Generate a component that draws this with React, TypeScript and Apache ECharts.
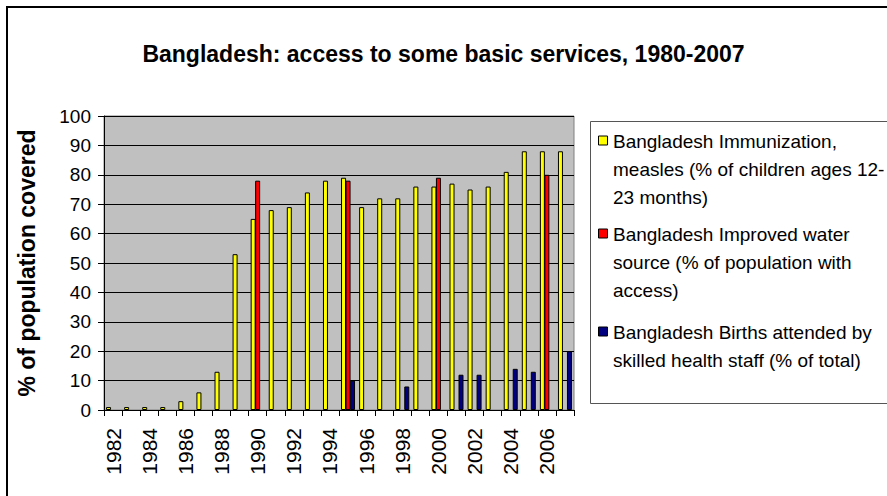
import React, { useEffect, useRef } from "react";
import * as echarts from "echarts";

const years: string[] = [
  "1982", "1983", "1984", "1985", "1986", "1987", "1988", "1989", "1990",
  "1991", "1992", "1993", "1994", "1995", "1996", "1997", "1998", "1999",
  "2000", "2001", "2002", "2003", "2004", "2005", "2006", "2007",
];

const immunization: (number | null)[] = [
  1, 1, 1, 1, 3, 6, 13, 53, 65, 68, 69, 74, 78, 79, 69, 72, 72, 76, 76, 77, 75, 76, 81, 88, 88, 88,
];

const water: (number | null)[] = [
  null, null, null, null, null, null, null, null, 78, null, null, null, null, 78, null, null, null,
  null, 79, null, null, null, null, null, 80, null,
];

const births: (number | null)[] = [
  null, null, null, null, null, null, null, null, null, null, null, null, null, 10, null, null, 8,
  null, null, 12, 12, null, 14, 13, null, 20,
];

const seriesNames: string[] = [
  "Bangladesh Immunization, measles (% of children ages 12-23 months)",
  "Bangladesh Improved water source (% of population with access)",
  "Bangladesh Births attended by skilled health staff (% of total)",
];

const legendLines: string[][] = [
  ["Bangladesh Immunization,", "measles (% of children ages 12-", "23 months)"],
  ["Bangladesh Improved water", "source (% of population with", "access)"],
  ["Bangladesh Births attended by", "skilled health staff (% of total)"],
];

const colors: string[] = ["#FFFF00", "#FF0000", "#000080"];

const FONT = "'Liberation Sans', Arial, Helvetica, sans-serif";

export default function App() {
  const ref = useRef<HTMLDivElement>(null);

  useEffect(() => {
    if (!ref.current) return;
    const chart = echarts.init(ref.current, undefined, { renderer: "svg" });

    const legendCenters = [141, 234, 332];
    const lineH = 28;
    const legendGraphics: any[] = [
      {
        type: "rect",
        shape: { x: 590.5, y: 121.5, width: 400, height: 282 },
        style: { fill: "#FFFFFF", stroke: "#555555", lineWidth: 1 },
        z: 10,
      },
    ];
    legendLines.forEach((lines, i) => {
      const c = legendCenters[i];
      legendGraphics.push({
        type: "rect",
        shape: { x: 598.5, y: c - 5, width: 9, height: 9 },
        style: { fill: colors[i], stroke: "#000000", lineWidth: 1 },
        z: 11,
      });
      legendGraphics.push({
        type: "text",
        x: 613,
        y: c - lineH / 2,
        style: {
          text: lines.join("\n"),
          font: `19px ${FONT}`,
          fill: "#000000",
          lineHeight: lineH,
          verticalAlign: "top",
          align: "left",
        },
        z: 11,
      });
    });

    const option: any = {
      animation: false,
      backgroundColor: "#FFFFFF",
      title: {
        text: "Bangladesh: access to some basic services, 1980-2007",
        left: "center",
        top: 37,
        textStyle: {
          fontFamily: FONT,
          fontSize: 23,
          fontWeight: "bold",
          color: "#000000",
        },
      },
      graphic: [
        {
          type: "rect",
          shape: { x: 7, y: 7, width: 900, height: 520 },
          style: { fill: "none", stroke: "#000000", lineWidth: 2 },
          z: 20,
        },
        ...legendGraphics,
      ],
      grid: {
        left: 104,
        right: 313,
        top: 116,
        bottom: 86,
        show: true,
        backgroundColor: "#C0C0C0",
        borderColor: "#808080",
        borderWidth: 1,
      },
      xAxis: {
        type: "category",
        data: years,
        axisLine: { show: true, lineStyle: { color: "#000000", width: 1 } },
        axisTick: {
          show: true,
          interval: 0,
          alignWithLabel: false,
          length: 6,
          lineStyle: { color: "#000000" },
        },
        axisLabel: {
          interval: 1,
          rotate: 90,
          margin: 18,
          fontFamily: FONT,
          fontSize: 21,
          color: "#000000",
        },
        splitLine: { show: false },
      },
      yAxis: {
        type: "value",
        min: 0,
        max: 100,
        interval: 10,
        name: "% of population covered",
        nameLocation: "middle",
        nameGap: 66,
        nameTextStyle: {
          fontFamily: FONT,
          fontSize: 23,
          fontWeight: "bold",
          color: "#000000",
        },
        axisLine: { show: true, lineStyle: { color: "#000000", width: 1 } },
        axisTick: { show: true, length: 6, lineStyle: { color: "#000000" } },
        axisLabel: {
          margin: 13,
          fontFamily: FONT,
          fontSize: 19,
          color: "#000000",
        },
        splitLine: { show: true, lineStyle: { color: "#000000", width: 1 } },
      },
      series: [immunization, water, births].map((d, i) => ({
        name: seriesNames[i],
        type: "bar",
        data: d,
        barWidth: 5,
        barGap: "-10%",
        itemStyle: { color: colors[i], borderColor: "#000000", borderWidth: 1 },
      })),
    };

    chart.setOption(option);
    return () => chart.dispose();
  }, []);

  return (
    <div
      ref={ref}
      style={{ position: "fixed", left: 0, top: 0, width: 887, height: 496 }}
    />
  );
}
